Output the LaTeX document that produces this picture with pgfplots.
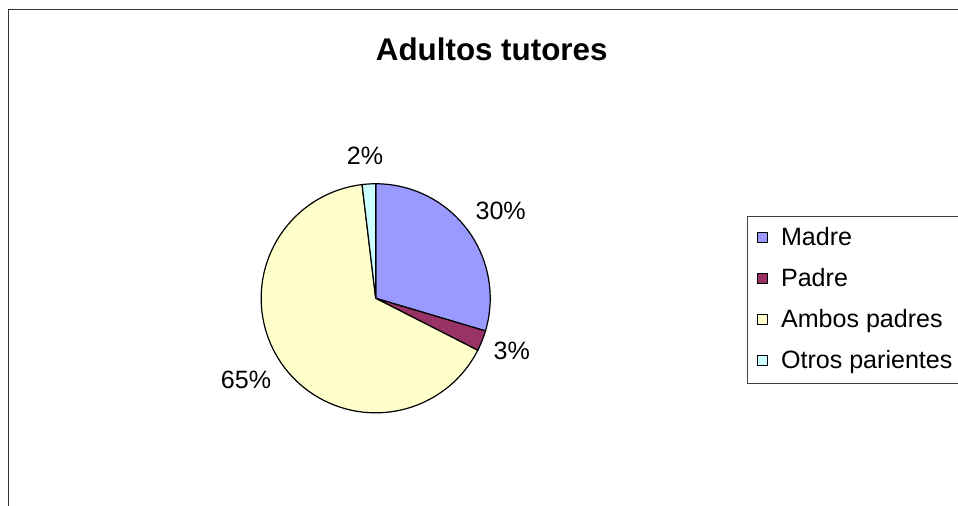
\documentclass[border=0pt]{standalone}
\usepackage{fontspec}
\setmainfont{Liberation Sans}
\usepackage{pgfplots}
\usepackage{pgfplotstable}
\pgfplotsset{compat=1.18}

\definecolor{madre}{HTML}{9999FF}
\definecolor{padre}{HTML}{993366}
\definecolor{ambos}{HTML}{FFFFCC}
\definecolor{otros}{HTML}{CCFFFF}

% share of each group, in percent
\pgfplotstableread{
idx value
0 29.6
1 2.9
2 65.6
3 1.9
}\piedata

\newcommand\getval[2]{\pgfplotstablegetelem{#1}{value}\of\piedata\let#2\pgfplotsretval}
\getval{0}\vA
\getval{1}\vB
\getval{2}\vC
\getval{3}\vD
% slice boundaries, clockwise from the top
\pgfmathsetmacro\aA{90}
\pgfmathsetmacro\aB{\aA-3.6*\vA}
\pgfmathsetmacro\aC{\aB-3.6*\vB}
\pgfmathsetmacro\aD{\aC-3.6*\vC}
\pgfmathsetmacro\aE{\aD-3.6*\vD}

\def\R{85.9pt}
\newcommand\sector[3]{%
  \filldraw[fill=#1, draw=black, line width=0.9pt] (axis cs:375.7,207.7) -- ++(#2:\R)
    arc[start angle=#2, end angle=#3, radius=\R] -- cycle;}

\newcommand\lbl{\fontsize{18.8}{22}\selectfont}

\begin{document}
\begin{tikzpicture}
\path[use as bounding box] (0,0) rectangle (718.5pt,379.5pt);
\clip (0,0) rectangle (718.5pt,379.5pt);
\begin{axis}[
    scale only axis,
    width=718.5pt, height=379.5pt,
    xmin=0, xmax=958, ymin=0, ymax=506,
    hide axis, clip=false,
    legend image code/.code={\draw[#1, line width=0.9pt] (0pt,-3pt) rectangle (7.5pt,4.5pt);},
    legend cell align=left,
    legend style={
        at={(axis cs:746.7,290)}, anchor=north west,
        draw=black!75, line width=0.75pt,
        inner sep=7pt, row sep=11.45pt,
        font=\lbl,
        nodes={text height=15pt, text depth=4.25pt, inner sep=0pt},
        /tikz/every odd column/.append style={column sep=10pt},
    },
]
\sector{madre}{\aA}{\aB}
\sector{padre}{\aB}{\aC}
\sector{ambos}{\aC}{\aD}
\sector{otros}{\aD}{\aE}

\addlegendimage{fill=madre, draw=black}
\addlegendentry{Madre}
\addlegendimage{fill=padre, draw=black}
\addlegendentry{Padre}
\addlegendimage{fill=ambos, draw=black}
\addlegendentry{Ambos padres}
\addlegendimage{fill=otros, draw=black}
\addlegendentry{Otros parientes}

% chart area frame (only the top and left edges are inside the picture)
\draw[black!80, line width=1pt] (axis cs:8.3,0) -- (axis cs:8.3,496.7) -- (axis cs:958,496.7);

\node[anchor=base, font=\bfseries\fontsize{23.5}{28}\selectfont] at (axis cs:491.7,445.3) {Adultos tutores};
\node[anchor=base west, inner sep=0pt, font=\lbl] at (axis cs:475.3,286.7) {30\%};
\node[anchor=base west, inner sep=0pt, font=\lbl] at (axis cs:493.3,146) {3\%};
\node[anchor=base west, inner sep=0pt, font=\lbl] at (axis cs:220.7,117.7) {65\%};
\node[anchor=base west, inner sep=0pt, font=\lbl] at (axis cs:346.7,341) {2\%};
\end{axis}
\end{tikzpicture}
\end{document}
